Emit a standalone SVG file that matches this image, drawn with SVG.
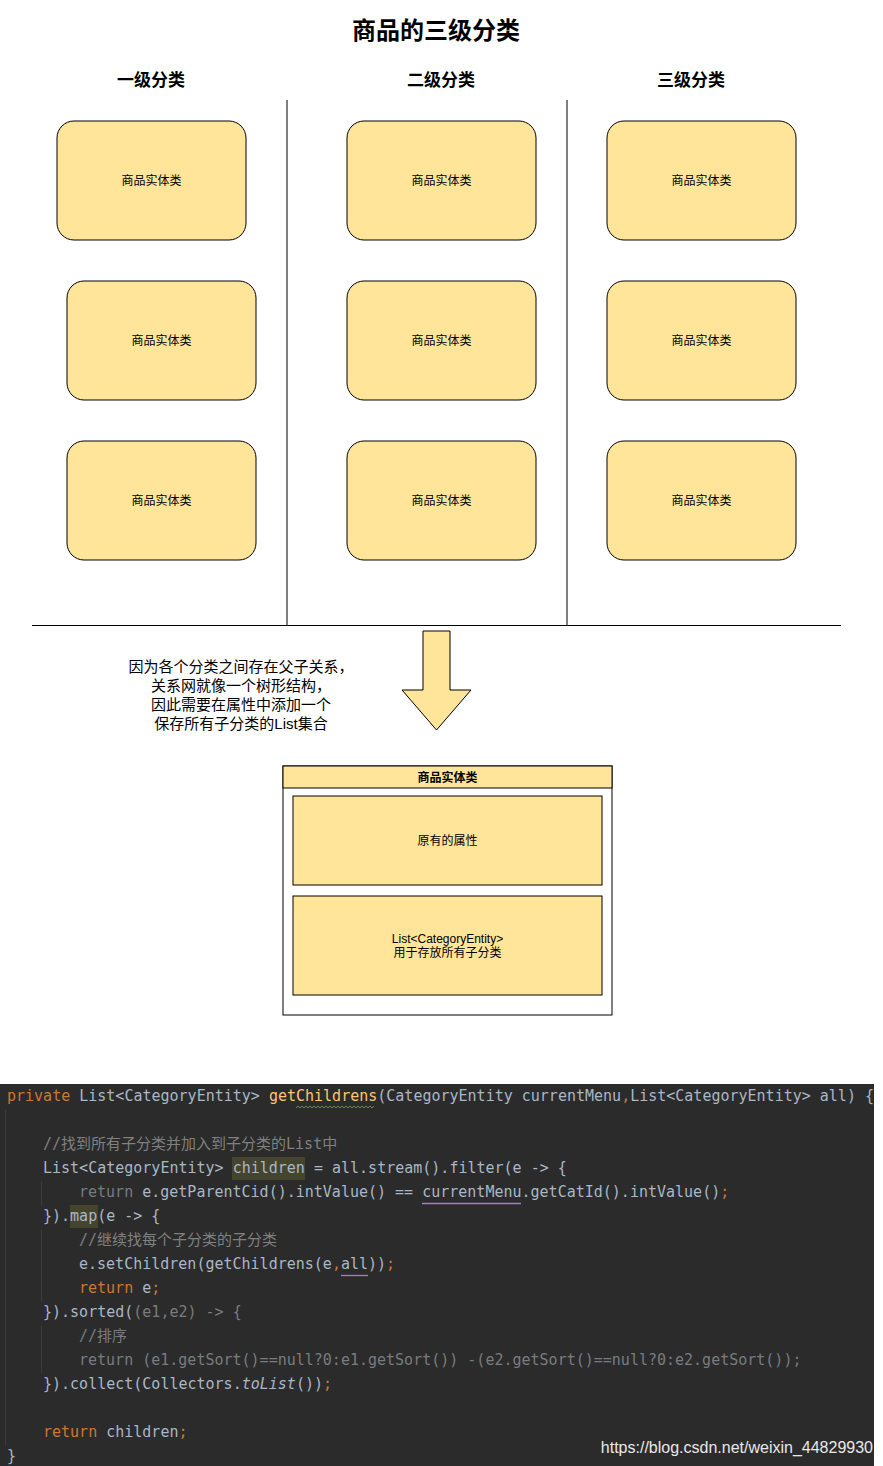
<svg xmlns="http://www.w3.org/2000/svg" width="883" height="1466" viewBox="0 0 883 1466">
<style>
.t{font-family:"Liberation Sans","Noto Sans CJK SC",sans-serif;fill:#000;text-anchor:middle}
.title{font-size:24px;font-weight:bold}
.hdr{font-size:17px;font-weight:bold}
.lbl{font-size:12px}
.note{font-size:15px}
.card{fill:#FFE599;stroke:#000;stroke-width:1}
.div{stroke:#000;stroke-width:1;fill:none}
.code{font-family:"DejaVu Sans Mono","Noto Sans CJK SC",monospace;font-size:15px;fill:#A9B7C6}
.kw{fill:#CC7832}
.fn{fill:#FFC66D}
.cm{fill:#808080}
.dim{fill:#787C80}
.guide{stroke:#3C3C3C;stroke-width:1}
</style>
<rect x="0" y="0" width="883" height="1466" fill="#ffffff"/>
<text class="t title" x="436" y="39">商品的三级分类</text>
<text class="t hdr" x="151" y="86">一级分类</text>
<text class="t hdr" x="441" y="86">二级分类</text>
<text class="t hdr" x="691" y="86">三级分类</text>
<g id="connectors">
<line class="div" x1="287" y1="100" x2="287" y2="625"/>
<line class="div" x1="567" y1="100" x2="567" y2="625"/>
<line class="div" x1="32" y1="625.5" x2="841" y2="625.5"/>
</g>
<g id="n-l1-1"><rect class="card" x="57" y="121" width="189" height="119" rx="17"/><text class="t lbl" x="151.5" y="185">商品实体类</text></g>
<g id="n-l1-2"><rect class="card" x="67" y="281" width="189" height="119" rx="17"/><text class="t lbl" x="161.5" y="345">商品实体类</text></g>
<g id="n-l1-3"><rect class="card" x="67" y="441" width="189" height="119" rx="17"/><text class="t lbl" x="161.5" y="505">商品实体类</text></g>
<g id="n-l2-1"><rect class="card" x="347" y="121" width="189" height="119" rx="17"/><text class="t lbl" x="441.5" y="185">商品实体类</text></g>
<g id="n-l2-2"><rect class="card" x="347" y="281" width="189" height="119" rx="17"/><text class="t lbl" x="441.5" y="345">商品实体类</text></g>
<g id="n-l2-3"><rect class="card" x="347" y="441" width="189" height="119" rx="17"/><text class="t lbl" x="441.5" y="505">商品实体类</text></g>
<g id="n-l3-1"><rect class="card" x="607" y="121" width="189" height="119" rx="17"/><text class="t lbl" x="701.5" y="185">商品实体类</text></g>
<g id="n-l3-2"><rect class="card" x="607" y="281" width="189" height="119" rx="17"/><text class="t lbl" x="701.5" y="345">商品实体类</text></g>
<g id="n-l3-3"><rect class="card" x="607" y="441" width="189" height="119" rx="17"/><text class="t lbl" x="701.5" y="505">商品实体类</text></g>
<g id="n-arrow"><polygon class="card" points="423,631 450,631 450,690 471,690 436.5,730 402,690 423,690"/></g>
<g id="n-note">
<text class="t note" x="241" y="672">因为各个分类之间存在父子关系，</text>
<text class="t note" x="241" y="691">关系网就像一个树形结构，</text>
<text class="t note" x="241" y="710">因此需要在属性中添加一个</text>
<text class="t note" x="241" y="729">保存所有子分类的List集合</text>
</g>
<g id="n-entity">
<rect x="283" y="766" width="329" height="249" fill="#ffffff" stroke="#000"/>
<rect x="283" y="766" width="329" height="22" fill="#FFE599" stroke="#000"/>
<text class="t lbl" x="447.5" y="782" font-weight="bold">商品实体类</text>
<rect class="card" x="293" y="796" width="309" height="89"/>
<text class="t lbl" x="447.5" y="845">原有的属性</text>
<rect class="card" x="293" y="896" width="309" height="99"/>
<text class="t lbl" x="447.5" y="943">List&lt;CategoryEntity&gt;</text>
<text class="t lbl" x="447.5" y="957">用于存放所有子分类</text>
</g>
<g id="code">
<rect x="0" y="1084" width="874" height="382" fill="#2B2B2B"/>
<line class="guide" x1="5.5" y1="1110" x2="5.5" y2="1445"/>
<line class="guide" x1="41.5" y1="1181" x2="41.5" y2="1206"/>
<line class="guide" x1="41.5" y1="1229" x2="41.5" y2="1302"/>
<line class="guide" x1="41.5" y1="1325" x2="41.5" y2="1373"/>
<rect x="232" y="1157" width="73" height="23" fill="#45452F"/>
<rect x="70" y="1205" width="28" height="23" fill="#45452F"/>
<path d="M296,1108 l2,-2 l2,2 l2,-2 l2,2 l2,-2 l2,2 l2,-2 l2,2 l2,-2 l2,2 l2,-2 l2,2 l2,-2 l2,2 l2,-2 l2,2 l2,-2 l2,2 l2,-2 l2,2 l2,-2 l2,2 l2,-2 l2,2 l2,-2 l2,2 l2,-2 l2,2 l2,-2 l2,2 l2,-2 l2,2 l2,-2 l2,2 l2,-2 l2,2 l2,-2 l2,2 l2,-2" fill="none" stroke="#5F8F4F" stroke-width="1"/>
<line x1="422" y1="1203.5" x2="521" y2="1203.5" stroke="#A57ACD" stroke-width="1.3"/>
<line x1="341" y1="1275.5" x2="368" y2="1275.5" stroke="#A57ACD" stroke-width="1.3"/>
<g xml:space="preserve">
<text class="code" x="7" y="1101"><tspan class="kw">private</tspan> List&lt;CategoryEntity&gt; <tspan class="fn">getChildrens</tspan>(CategoryEntity currentMenu<tspan class="kw">,</tspan>List&lt;CategoryEntity&gt; all) {</text>
<text class="code" x="43" y="1149"><tspan class="cm">//找到所有子分类并加入到子分类的List中</tspan></text>
<text class="code" x="43" y="1173">List&lt;CategoryEntity&gt; children = all.stream().filter(e -&gt; {</text>
<text class="code" x="79" y="1197"><tspan class="dim">return</tspan> e.getParentCid().intValue() == currentMenu.getCatId().intValue()<tspan class="kw">;</tspan></text>
<text class="code" x="43" y="1221">}).map(e -&gt; {</text>
<text class="code" x="79" y="1245"><tspan class="cm">//继续找每个子分类的子分类</tspan></text>
<text class="code" x="79" y="1269">e.setChildren(getChildrens(e<tspan class="kw">,</tspan>all))<tspan class="kw">;</tspan></text>
<text class="code" x="79" y="1293"><tspan class="kw">return</tspan> e<tspan class="kw">;</tspan></text>
<text class="code" x="43" y="1317">}).sorted(<tspan class="dim">(e1,e2) -&gt; {</tspan></text>
<text class="code" x="79" y="1341"><tspan class="dim">//排序</tspan></text>
<text class="code" x="79" y="1365"><tspan class="dim">return (e1.getSort()==null?0:e1.getSort()) -(e2.getSort()==null?0:e2.getSort());</tspan></text>
<text class="code" x="43" y="1389">}).collect(Collectors.<tspan font-style="italic">toList</tspan>())<tspan class="kw">;</tspan></text>
<text class="code" x="43" y="1437"><tspan class="kw">return</tspan> children<tspan class="kw">;</tspan></text>
<text class="code" x="7" y="1461">}</text>
</g>
<text x="873" y="1453" font-family="Liberation Sans, sans-serif" font-size="16" fill="#E8E8E8" text-anchor="end">https://blog.csdn.net/weixin_44829930</text>
</g>
</svg>
